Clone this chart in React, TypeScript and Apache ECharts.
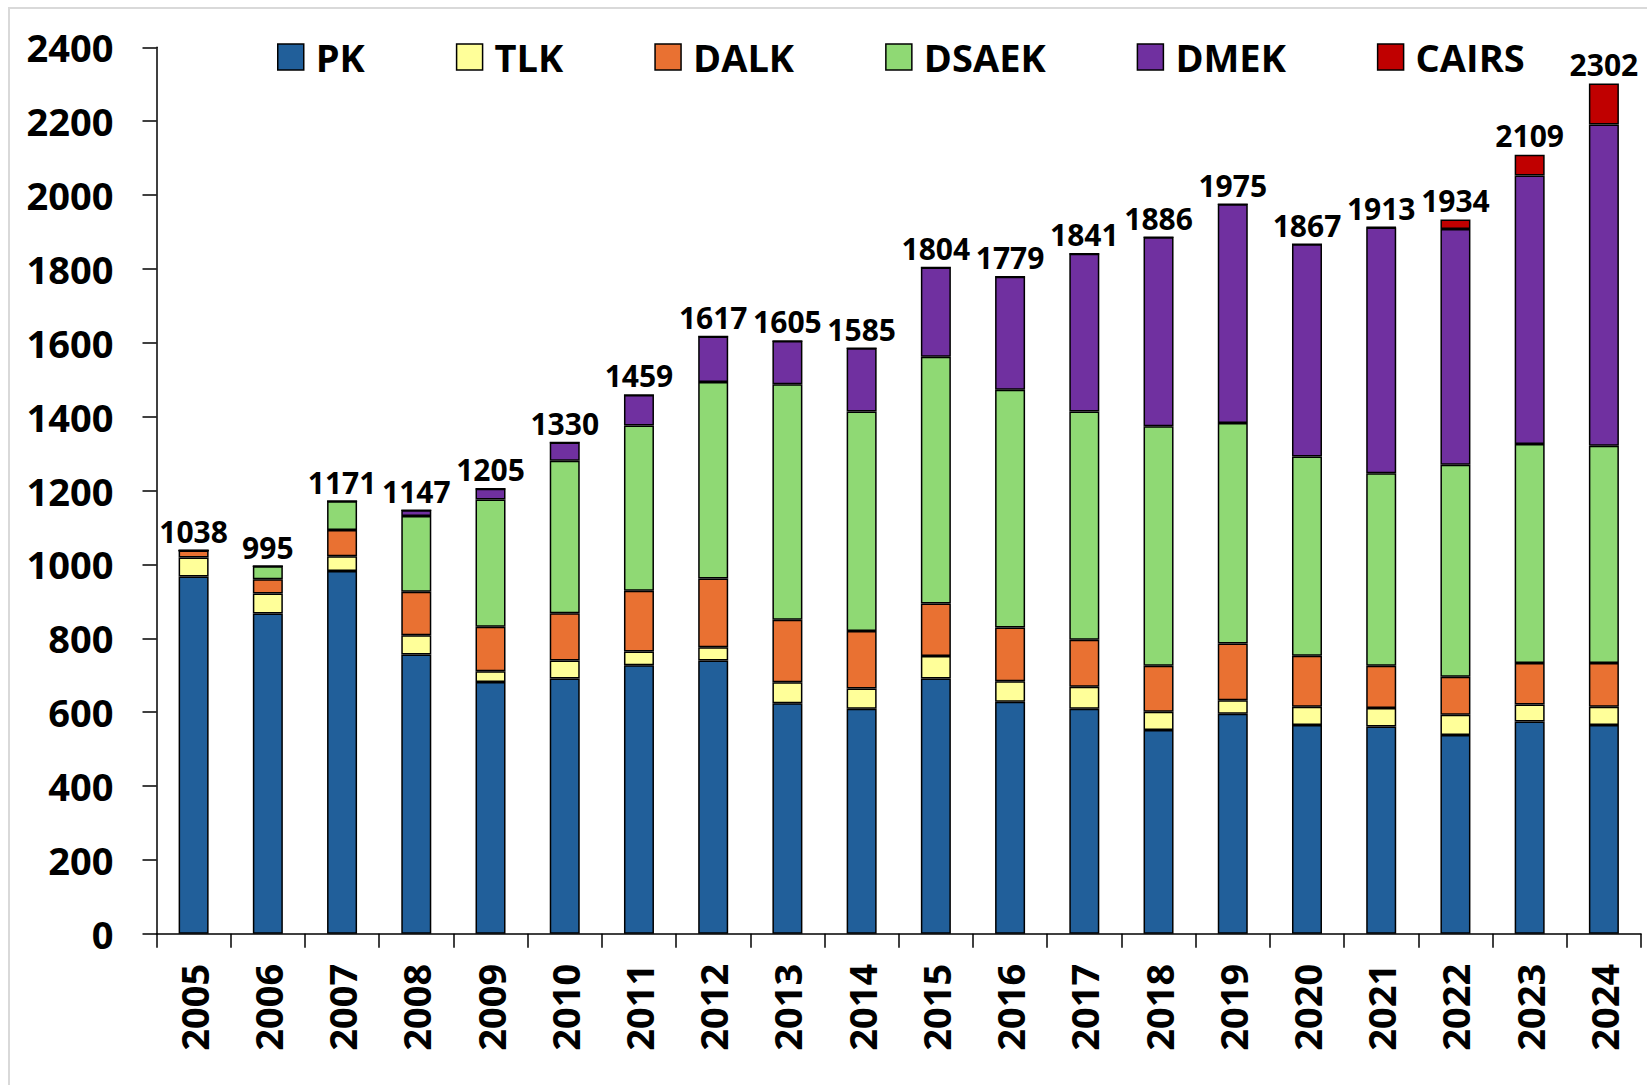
import React, { useEffect, useRef } from "react";
import * as echarts from "echarts";

const years = ["2005","2006","2007","2008","2009","2010","2011","2012","2013","2014","2015","2016","2017","2018","2019","2020","2021","2022","2023","2024"];
const pk =    [967, 867, 982, 756, 682, 691, 727, 740, 624, 609, 691, 628, 609, 552, 596, 565, 561, 538, 575, 565];
const tlk =   [52, 54, 40, 52, 29, 49, 37, 36, 57, 55, 61, 56, 60, 49, 36, 50, 50, 55, 46, 50];
const dalk =  [19, 39, 71, 118, 120, 128, 165, 186, 169, 156, 142, 145, 127, 125, 154, 138, 115, 103, 112, 118];
const dsaek = [0, 35, 78, 205, 345, 413, 447, 532, 638, 594, 668, 644, 618, 648, 597, 539, 521, 574, 593, 588];
const dmek =  [0, 0, 0, 16, 29, 49, 83, 123, 117, 171, 242, 306, 427, 512, 592, 575, 665, 638, 727, 870];
const cairs = [0, 0, 0, 0, 0, 0, 0, 0, 0, 0, 0, 0, 0, 0, 0, 0, 1, 26, 56, 111];
const totals = [1038, 995, 1171, 1147, 1205, 1330, 1459, 1617, 1605, 1585, 1804, 1779, 1841, 1886, 1975, 1867, 1913, 1934, 2109, 2302];

const seriesDefs = [
  { name: "PK", data: pk, color: "#215F9A" },
  { name: "TLK", data: tlk, color: "#FFFF99" },
  { name: "DALK", data: dalk, color: "#E97132" },
  { name: "DSAEK", data: dsaek, color: "#8FD974" },
  { name: "DMEK", data: dmek, color: "#7030A0" },
  { name: "CAIRS", data: cairs, color: "#C00000" },
];

const FONT = "'Open Sans', 'Noto Sans', sans-serif";

export default function App() {
  const ref = useRef<HTMLDivElement>(null);
  useEffect(() => {
    document.body.style.margin = "0";
    const chart = echarts.init(ref.current!, null, { renderer: "svg" });
    const series: any[] = seriesDefs.map((s) => ({
      name: s.name,
      type: "bar",
      stack: "total",
      barWidth: 30,
      data: s.data,
      itemStyle: { color: s.color, borderColor: "#000", borderWidth: 1.5 },
    }));
    series.push({
      name: "Total",
      type: "bar",
      stack: "total",
      barWidth: 30,
      data: totals.map(() => 0),
      itemStyle: { color: "rgba(0,0,0,0)", borderWidth: 0 },
      label: {
        show: true,
        position: "top",
        distance: 4,
        formatter: (p: any) => String(totals[p.dataIndex]),
        fontFamily: FONT,
        fontWeight: "bold",
        fontSize: 30,
        color: "#000",
      },
      silent: true,
    });
    chart.setOption({
      animation: false,
      backgroundColor: "#fff",
      textStyle: { fontFamily: FONT },
      graphic: [
        {
          type: "rect",
          shape: { x: 9, y: 8, width: 1700, height: 1200 },
          style: { fill: "none", stroke: "#D9D9D9", lineWidth: 2 },
          silent: true,
          z: -1,
        },
      ],
      legend: {
        data: seriesDefs.map((s) => s.name),
        left: 272,
        top: 33,
        itemWidth: 26,
        itemHeight: 26,
        itemGap: 91,
        icon: "rect",
        itemStyle: { borderColor: "#000", borderWidth: 1.5 },
        textStyle: {
          fontFamily: FONT,
          fontWeight: "bold",
          fontSize: 38,
          color: "#000",
          padding: [0, 0, 0, 7],
        },
      },
      grid: { left: 156.5, right: 6, top: 47.3, bottom: 151.2, containLabel: false },
      xAxis: {
        type: "category",
        data: years,
        axisLine: { lineStyle: { color: "#000", width: 1.5 } },
        axisTick: { show: true, length: 14, lineStyle: { color: "#000", width: 1.5 } },
        axisLabel: {
          rotate: 90,
          margin: 30,
          fontFamily: FONT,
          fontWeight: "bold",
          fontSize: 38,
          color: "#000",
        },
      },
      yAxis: {
        type: "value",
        min: 0,
        max: 2400,
        interval: 200,
        splitLine: { show: false },
        axisLine: { show: true, lineStyle: { color: "#000", width: 1.5 } },
        axisTick: { show: true, length: 14, lineStyle: { color: "#000", width: 1.5 } },
        axisLabel: {
          margin: 43,
          formatter: (v: number) => String(v),
          fontFamily: FONT,
          fontWeight: "bold",
          fontSize: 38,
          color: "#000",
        },
      },
      series,
    });
    return () => chart.dispose();
  }, []);
  return <div ref={ref} style={{ width: 1647, height: 1085 }} />;
}
